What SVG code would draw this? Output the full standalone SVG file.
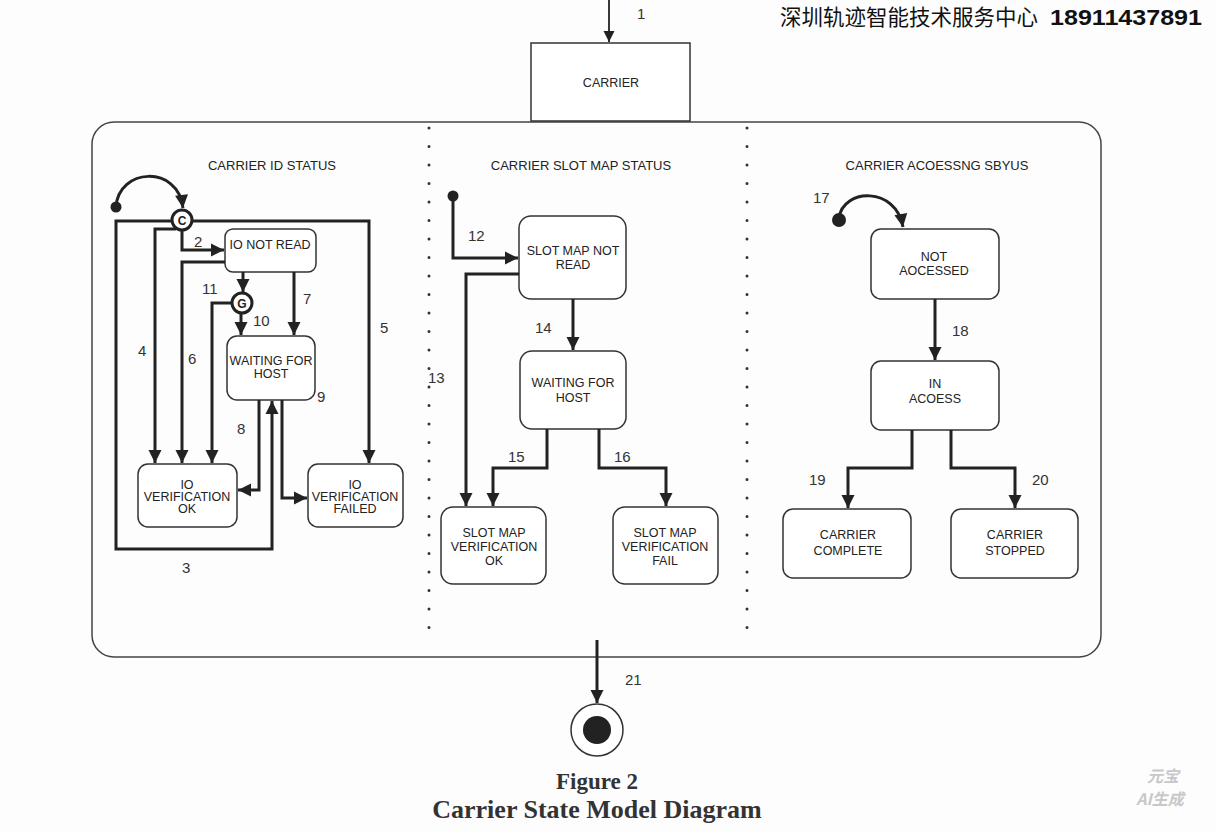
<svg xmlns="http://www.w3.org/2000/svg" width="1216" height="832" viewBox="0 0 1216 832">
<defs>
<marker id="ah" markerUnits="userSpaceOnUse" markerWidth="16" markerHeight="16" viewBox="0 0 16 16" refX="14" refY="8" orient="auto">
<path d="M1,1.5 L14,8 L1,14.5 Z" fill="#222"/>
</marker>
<marker id="ahs" markerUnits="userSpaceOnUse" markerWidth="14" markerHeight="14" viewBox="0 0 14 14" refX="12" refY="7" orient="auto">
<path d="M1,1.5 L12,7 L1,12.5 Z" fill="#222"/>
</marker>
</defs>
<style>
.bg{fill:#fdfdfd}
.box{fill:#fff;stroke:#333;stroke-width:1.5}
.cont{fill:none;stroke:#444;stroke-width:1.5}
.c{fill:none;stroke:#222;stroke-width:3;stroke-linejoin:miter}
.cs{fill:none;stroke:#222;stroke-width:1.8}
.t{font-family:"Liberation Sans",Arial,sans-serif;font-size:12.5px;fill:#222;text-anchor:middle}
.h{font-family:"Liberation Sans",Arial,sans-serif;font-size:13px;fill:#222;text-anchor:middle}
.n{font-family:"Liberation Sans",Arial,sans-serif;font-size:15px;fill:#333}
.dot{fill:none;stroke:#333;stroke-width:3;stroke-linecap:round;stroke-dasharray:0 18.5}
.cap{font-family:"Liberation Serif","Times New Roman",serif;font-weight:bold;fill:#333;text-anchor:middle}
.wm{font-family:"Noto Sans CJK SC",sans-serif;font-size:16px;font-weight:bold;font-style:italic;fill:#c8c8c8;text-anchor:middle}
</style>
<rect class="bg" x="0" y="0" width="1216" height="832"/>

<g id="header">
<text x="780" y="25" style="font-family:'Noto Sans CJK SC',sans-serif;font-size:21.5px;fill:#111">深圳轨迹智能技术服务中心</text>
<text x="1050" y="25" textLength="152" lengthAdjust="spacingAndGlyphs" style="font-family:'Liberation Sans',Arial,sans-serif;font-size:22px;font-weight:bold;fill:#111">18911437891</text>
</g>

<g id="container">
<rect class="cont" x="92" y="122" width="1009" height="535" rx="22"/>
<line class="dot" x1="429" y1="128" x2="429" y2="640"/>
<line class="dot" x1="747" y1="128" x2="747" y2="640"/>
<text class="h" x="272" y="170">CARRIER ID STATUS</text>
<text class="h" x="581" y="170">CARRIER SLOT MAP STATUS</text>
<text class="h" x="937" y="170">CARRIER ACOESSNG SBYUS</text>
</g>

<g id="carrier">
<rect class="box" x="531" y="43" width="159" height="78"/>
<text class="t" x="611" y="87">CARRIER</text>
</g>

<g id="id-status-nodes">
<g id="init-id"><circle cx="116" cy="207" r="5.5" fill="#222"/></g>
<g id="choice-c"><circle cx="182" cy="220" r="10" fill="#fff" stroke="#222" stroke-width="3"/><text x="182" y="225" style="font-family:'Liberation Sans',Arial,sans-serif;font-size:12px;font-weight:bold;fill:#222;text-anchor:middle">C</text></g>
<g id="io-not-read"><rect class="box" x="225" y="229" width="91" height="43" rx="8"/><text class="t" x="270" y="249">IO NOT READ</text></g>
<g id="choice-g"><circle cx="242" cy="303" r="10" fill="#fff" stroke="#222" stroke-width="3"/><text x="242" y="308" style="font-family:'Liberation Sans',Arial,sans-serif;font-size:12px;font-weight:bold;fill:#222;text-anchor:middle">G</text></g>
<g id="id-waiting"><rect class="box" x="227" y="336" width="88" height="64" rx="10"/><text class="t" x="271" y="365">WAITING FOR</text><text class="t" x="271" y="378">HOST</text></g>
<g id="id-ok"><rect class="box" x="138" y="464" width="99" height="63" rx="10"/><text class="t" x="187" y="489">IO</text><text class="t" x="187" y="501">VERIFICATION</text><text class="t" x="187" y="513">OK</text></g>
<g id="id-failed"><rect class="box" x="308" y="464" width="95" height="63" rx="10"/><text class="t" x="355" y="489">IO</text><text class="t" x="355" y="501">VERIFICATION</text><text class="t" x="355" y="513">FAILED</text></g>
</g>

<g id="slot-map-nodes">
<g id="init-sm"><circle cx="453" cy="196" r="5.5" fill="#222"/></g>
<g id="sm-not-read"><rect class="box" x="519" y="216" width="107" height="83" rx="12"/><text class="t" x="573" y="255">SLOT MAP NOT</text><text class="t" x="573" y="269">READ</text></g>
<g id="sm-waiting"><rect class="box" x="520" y="351" width="106" height="78" rx="12"/><text class="t" x="573" y="387">WAITING FOR</text><text class="t" x="573" y="402">HOST</text></g>
<g id="sm-ok"><rect class="box" x="441" y="507" width="105" height="77" rx="12"/><text class="t" x="494" y="537">SLOT MAP</text><text class="t" x="494" y="551">VERIFICATION</text><text class="t" x="494" y="565">OK</text></g>
<g id="sm-fail"><rect class="box" x="613" y="507" width="105" height="77" rx="12"/><text class="t" x="665" y="537">SLOT MAP</text><text class="t" x="665" y="551">VERIFICATION</text><text class="t" x="665" y="565">FAIL</text></g>
</g>

<g id="access-nodes">
<g id="init-ac"><circle cx="839" cy="220" r="7" fill="#222"/></g>
<g id="not-accessed"><rect class="box" x="871" y="229" width="128" height="70" rx="10"/><text class="t" x="934" y="261">NOT</text><text class="t" x="934" y="275">AOCESSED</text></g>
<g id="in-access"><rect class="box" x="871" y="361" width="128" height="69" rx="10"/><text class="t" x="935" y="388">IN</text><text class="t" x="935" y="403">ACOESS</text></g>
<g id="carrier-complete"><rect class="box" x="783" y="509" width="128" height="69" rx="10"/><text class="t" x="848" y="539">CARRIER</text><text class="t" x="848" y="555">COMPLETE</text></g>
<g id="carrier-stopped"><rect class="box" x="951" y="509" width="127" height="69" rx="10"/><text class="t" x="1015" y="539">CARRIER</text><text class="t" x="1015" y="555">STOPPED</text></g>
</g>

<g id="final">
<circle cx="597" cy="730" r="26" fill="#fff" stroke="#333" stroke-width="1.5"/>
<circle cx="597" cy="730" r="14" fill="#222"/>
</g>

<g id="connectors">
<path class="cs" d="M609,0 V42" marker-end="url(#ahs)"/>
<path class="c" d="M116,207 C118,168 178,164 183,208" marker-end="url(#ah)"/>
<path class="c" d="M192,221 H369 V463" marker-end="url(#ah)"/>
<path class="c" d="M172,221 H116 V549 H272 V401" marker-end="url(#ah)"/>
<path class="c" d="M176,229 H155 V463" marker-end="url(#ah)"/>
<path class="c" d="M182,230 V250 H224" marker-end="url(#ah)"/>
<path class="c" d="M225,262 H182 V463" marker-end="url(#ah)"/>
<path class="c" d="M243,272 V292" marker-end="url(#ah)"/>
<path class="c" d="M232,303 H212 V463" marker-end="url(#ah)"/>
<path class="c" d="M241,313 V335" marker-end="url(#ah)"/>
<path class="c" d="M294,272 V335" marker-end="url(#ah)"/>
<path class="c" d="M259,400 V490 H238" marker-end="url(#ah)"/>
<path class="c" d="M282,400 V498 H307" marker-end="url(#ah)"/>
<path class="c" d="M453,196 V258 H518" marker-end="url(#ah)"/>
<path class="c" d="M519,274 H466 V506" marker-end="url(#ah)"/>
<path class="c" d="M573,299 V350" marker-end="url(#ah)"/>
<path class="c" d="M547,429 V468 H493 V506" marker-end="url(#ah)"/>
<path class="c" d="M599,429 V468 H666 V506" marker-end="url(#ah)"/>
<path class="c" d="M839,218 C843,188 896,186 903,227" marker-end="url(#ah)"/>
<path class="c" d="M935,299 V360" marker-end="url(#ah)"/>
<path class="c" d="M912,430 V468 H848 V508" marker-end="url(#ah)"/>
<path class="c" d="M951,430 V468 H1015 V508" marker-end="url(#ah)"/>
<path class="c" d="M597,640 V703" marker-end="url(#ah)"/>
</g>

<g id="labels">
<text class="n" x="637" y="19">1</text>
<text class="n" x="194" y="247">2</text>
<text class="n" x="182" y="573">3</text>
<text class="n" x="138" y="356">4</text>
<text class="n" x="380" y="333">5</text>
<text class="n" x="188" y="364">6</text>
<text class="n" x="303" y="304">7</text>
<text class="n" x="237" y="434">8</text>
<text class="n" x="317" y="402">9</text>
<text class="n" x="253" y="326">10</text>
<text class="n" x="202" y="294">11</text>
<text class="n" x="468" y="241">12</text>
<text class="n" x="428" y="383">13</text>
<text class="n" x="535" y="333">14</text>
<text class="n" x="508" y="462">15</text>
<text class="n" x="614" y="462">16</text>
<text class="n" x="813" y="203">17</text>
<text class="n" x="952" y="336">18</text>
<text class="n" x="809" y="485">19</text>
<text class="n" x="1032" y="485">20</text>
<text class="n" x="625" y="685">21</text>
</g>

<g id="caption">
<text class="cap" x="597" y="789" style="font-size:23px">Figure 2</text>
<text class="cap" x="597" y="818" style="font-size:26px">Carrier State Model Diagram</text>
</g>

<g id="watermark">
<text class="wm" x="1163" y="782">元宝</text>
<text class="wm" x="1160" y="805">AI生成</text>
</g>
</svg>
